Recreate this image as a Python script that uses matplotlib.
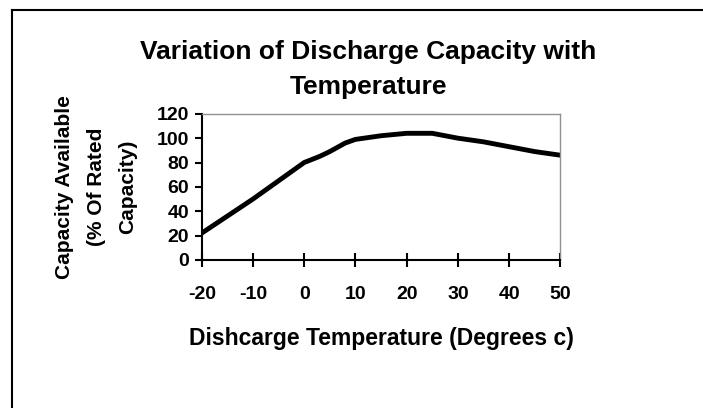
import matplotlib.pyplot as plt
from matplotlib.lines import Line2D

# discharge temperature (deg C) vs capacity available (% of rated)
temps = [-20, -15, -10, -5, 0, 3, 5, 8, 10, 15, 20, 25, 30, 35, 40, 45, 50]
capacity = [22, 36, 50, 65, 80, 85, 89, 96, 99, 102, 104, 104, 100, 97, 93, 89, 86]

xticks = [-20, -10, 0, 10, 20, 30, 40, 50]
yticks = [0, 20, 40, 60, 80, 100, 120]

plt.rcParams['font.family'] = ['Liberation Sans', 'DejaVu Sans']
plt.rcParams['font.weight'] = 'bold'
plt.rcParams['axes.labelweight'] = 'bold'
plt.rcParams['axes.unicode_minus'] = False

fig = plt.figure(figsize=(7.03, 4.08), dpi=100)
ax = fig.add_axes([0.287, 0.363, 0.51, 0.358])

ax.plot(temps, capacity, color='black', lw=3.5, solid_capstyle='butt')

ax.set_xlim(-20, 50)
ax.set_ylim(0, 120)
ax.set_xticks(xticks)
ax.set_yticks(yticks)
ax.tick_params(axis='x', direction='inout', length=10, width=1.5, pad=14, labelsize=14)
ax.tick_params(axis='y', direction='out', length=5, width=1.5, pad=4, labelsize=14)

for s in ['left', 'bottom']:
    ax.spines[s].set_color('black')
    ax.spines[s].set_linewidth(1.5)
for s in ['top', 'right']:
    ax.spines[s].set_color('#909090')
    ax.spines[s].set_linewidth(1)

ax.set_xlabel('Dishcarge Temperature (Degrees c)', fontsize=16.5, labelpad=17)
ax.set_ylabel('Capacity Available\n(% Of Rated\nCapacity)', fontsize=15, labelpad=14,
              linespacing=1.85)

fig.text(0.524, 0.83, 'Variation of Discharge Capacity with\nTemperature',
         ha='center', va='center', fontsize=19, linespacing=1.6)

# outer frame (left and top edges visible)
fig.add_artist(Line2D([12 / 703, 12 / 703], [0, 1 - 10 / 408], color='black', lw=1.5,
                      transform=fig.transFigure))
fig.add_artist(Line2D([12 / 703, 1], [1 - 10 / 408, 1 - 10 / 408], color='black', lw=1.5,
                      transform=fig.transFigure))

fig.savefig('out.png', dpi=100)
